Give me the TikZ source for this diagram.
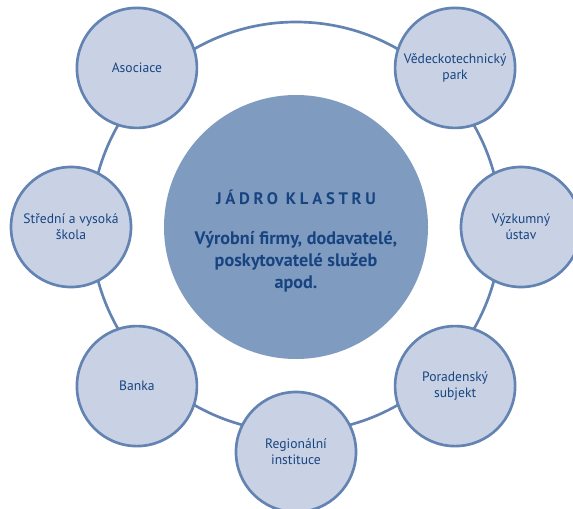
\documentclass[tikz,border=0pt]{standalone}
\usepackage{fontspec}
\setmainfont{PT Sans}
\usetikzlibrary{calc}

\definecolor{coreblue}{RGB}{127,155,192}
\definecolor{satfill}{RGB}{201,210,228}
\definecolor{ringblue}{RGB}{99,131,178}
\definecolor{textblue}{RGB}{23,68,128}

\begin{document}
\begin{tikzpicture}[x=0.75pt, y=0.75pt,
    satellite/.style={circle, draw=ringblue, line width=2pt, fill=satfill,
        minimum size=90pt, inner sep=0pt, align=center, text=textblue,
        font=\fontsize{10.2}{12}\selectfont},
    core/.style={circle, fill=coreblue, minimum size=198pt, inner sep=0pt,
        align=center, text=textblue}]
    % Frame of the picture
    \useasboundingbox (0,0) rectangle (573,508);

    % Cluster core
    \node[core] (core) at (296,281) {};
    \node[text=textblue, font=\fontsize{12.5}{15}\selectfont\bfseries\addfontfeature{LetterSpace=22}]
        (title) at (296,311) {JÁDRO KLASTRU};
    \node[text=textblue, align=center, font=\fontsize{13.6}{16.5}\selectfont\bfseries]
        (members) at (296,246) {Výrobní firmy, dodavatelé,\\poskytovatelé služeb\\apod.};

    % Ring joining the partners
    \draw[ringblue, line width=2pt] (core) circle[radius=153.75pt];

    % Partners around the core
    \node[satellite] (park)     at ($(core)+(45:225)$)   {Vědeckotechnický\\park};
    \node[satellite] (ustav)    at ($(core)+(0:225)$)    {Výzkumný\\ústav};
    \node[satellite] (poradce)  at ($(core)+(-45:225)$)  {Poradenský\\subjekt};
    \node[satellite] (region)   at ($(core)+(-90:225)$)  {Regionální\\instituce};
    \node[satellite] (banka)    at ($(core)+(-135:225)$) {Banka};
    \node[satellite] (skola)    at ($(core)+(180:225)$)  {Střední a vysoká\\škola};
    \node[satellite] (asociace) at ($(core)+(135:225)$)  {Asociace};
\end{tikzpicture}
\end{document}
